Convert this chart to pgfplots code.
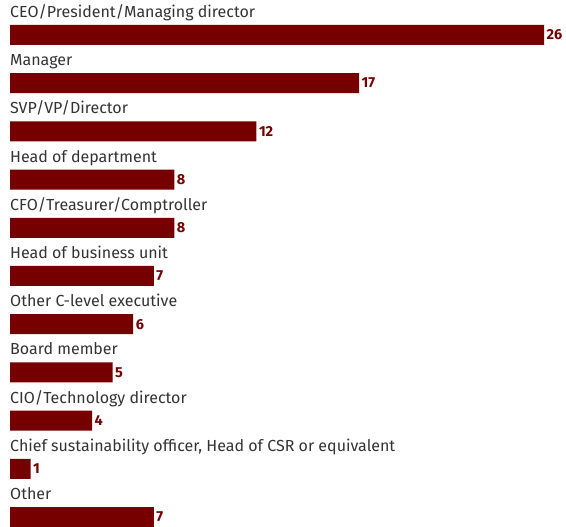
\documentclass[border=0pt]{standalone}
\usepackage{fontspec}
\setmainfont{Fira Sans}
\usepackage{pgfplots}
\pgfplotsset{compat=1.18}
\definecolor{barred}{HTML}{760000}
\definecolor{txt}{HTML}{333333}
\begin{document}
\begin{tikzpicture}
\useasboundingbox (0,0) rectangle (566pt,527pt);
\begin{axis}[
  at={(10pt,492pt)}, anchor=origin, disabledatascaling,
  x=20.54pt, y=-48.2pt,
  xmin=0, xmax=27, ymin=-0.5, ymax=10.5,
  hide axis, clip=false,
  xbar, bar width=20pt, bar shift=0pt,
  nodes near coords,
  nodes near coords style={font=\fontsize{14.5}{16}\selectfont\bfseries, text=barred, anchor=west, xshift=-1pt},
  /pgf/number format/assume math mode=true,
]
\addplot[fill=barred, draw=none] coordinates {
(26,0) (17,1) (12,2) (8,3) (8,4) (7,5) (6,6) (5,7) (4,8) (1,9) (7,10)};
\foreach \lab [count=\i from 0] in {CEO/President/Managing director, Manager, SVP/VP/Director, Head of department, CFO/Treasurer/Comptroller, Head of business unit, Other C-level executive, Board member, CIO/Technology director, {Chief sustainability officer, Head of CSR or equivalent}, Other} {
  \edef\tmp{\noexpand\node[anchor=base west, inner sep=0pt, text=txt, font=\noexpand\fontsize{16}{18}\noexpand\selectfont] at (axis cs:0,\i) [yshift=17.5pt] {\lab};}
  \tmp
}
\end{axis}
\end{tikzpicture}
\end{document}
